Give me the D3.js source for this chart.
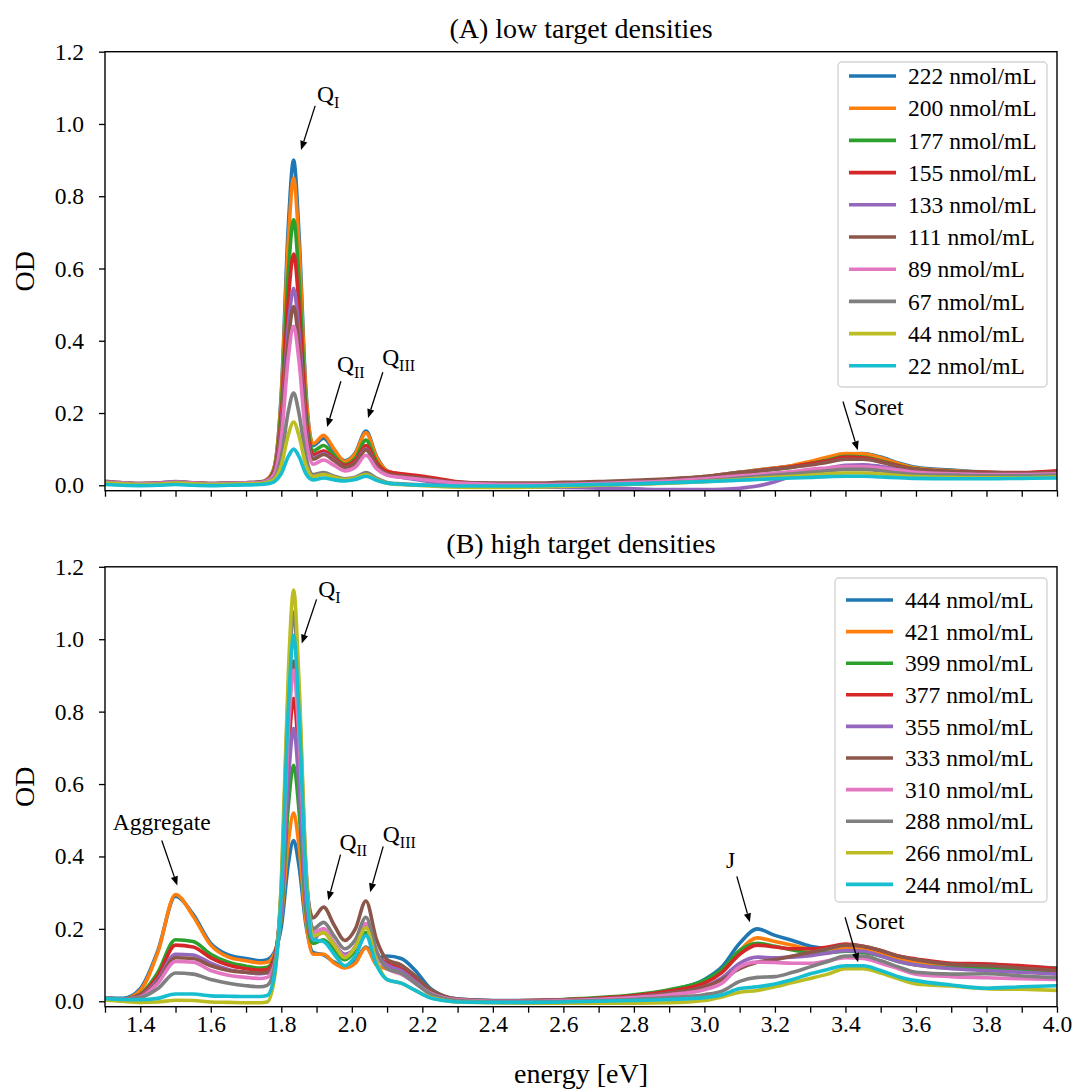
<!DOCTYPE html>
<html>
<head>
<meta charset="utf-8">
<script src="https://cdn.jsdelivr.net/npm/d3@7"></script>
<style>
  html, body { margin: 0; padding: 0; background: #fff; }
  svg { display: block; font-family: "Liberation Serif", "Times New Roman", serif; }
</style>
</head>
<body>
<div id="chart"></div>
<script>
// shared energy grid [eV]
const energy = [
  1.30, 1.35, 1.40, 1.45, 1.50, 1.55, 1.60, 1.65, 1.70, 1.74, 1.76,
  1.78, 1.80, 1.82, 1.835, 1.85, 1.87, 1.89,
  1.92, 1.95, 1.98, 2.01, 2.04, 2.07, 2.10, 2.14, 2.18, 2.22, 2.26, 2.30,
  2.40, 2.50, 2.60, 2.70, 2.80, 2.90,
  3.00, 3.05, 3.10, 3.15, 3.20, 3.25, 3.30, 3.35, 3.40, 3.45, 3.50, 3.55, 3.60,
  3.70, 3.80, 3.90, 4.00
];

const lowLabels = ["222 nmol/mL", "200 nmol/mL", "177 nmol/mL", "155 nmol/mL", "133 nmol/mL",
  "111 nmol/mL", "89 nmol/mL", "67 nmol/mL", "44 nmol/mL", "22 nmol/mL"];
const highLabels = ["444 nmol/mL", "421 nmol/mL", "399 nmol/mL", "377 nmol/mL", "355 nmol/mL",
  "333 nmol/mL", "310 nmol/mL", "288 nmol/mL", "266 nmol/mL", "244 nmol/mL"];

const colors = ["#1f77b4", "#ff7f0e", "#2ca02c", "#d62728", "#9467bd",
  "#8c564b", "#e377c2", "#7f7f7f", "#bcbd22", "#17becf"];

// (A) low target densities, OD
const low222 = [
  0.010, 0.007, 0.005, 0.006, 0.009, 0.007, 0.005, 0.006, 0.007, 0.009, 0.016,
  0.050, 0.255, 0.720, 0.900, 0.700, 0.260, 0.110,
  0.130, 0.095, 0.068, 0.090, 0.150, 0.080, 0.040, 0.030, 0.024, 0.018, 0.012, 0.008,
  0.004, 0.003, 0.004, 0.006, 0.010, 0.016,
  0.024, 0.030, 0.036, 0.042, 0.048, 0.054, 0.064, 0.076, 0.086, 0.088, 0.078, 0.062, 0.050,
  0.042, 0.036, 0.034, 0.036
];
const low200 = [
  0.010, 0.007, 0.005, 0.006, 0.009, 0.007, 0.005, 0.006, 0.007, 0.009, 0.016,
  0.050, 0.245, 0.680, 0.850, 0.665, 0.250, 0.115,
  0.138, 0.100, 0.066, 0.088, 0.145, 0.078, 0.040, 0.030, 0.024, 0.018, 0.012, 0.008,
  0.004, 0.003, 0.004, 0.006, 0.010, 0.016,
  0.024, 0.030, 0.036, 0.042, 0.048, 0.055, 0.066, 0.078, 0.088, 0.087, 0.076, 0.060, 0.048,
  0.040, 0.036, 0.034, 0.038
];
const low177 = [
  0.009, 0.006, 0.004, 0.005, 0.008, 0.006, 0.004, 0.005, 0.006, 0.008, 0.014,
  0.044, 0.215, 0.590, 0.735, 0.575, 0.215, 0.095,
  0.110, 0.082, 0.058, 0.075, 0.125, 0.066, 0.034, 0.026, 0.020, 0.015, 0.010, 0.006,
  0.002, 0.001, 0.002, 0.004, 0.006, 0.010,
  0.018, 0.026, 0.032, 0.038, 0.044, 0.050, 0.060, 0.070, 0.080, 0.078, 0.068, 0.055, 0.045,
  0.038, 0.034, 0.032, 0.038
];
const low155 = [
  0.009, 0.006, 0.004, 0.005, 0.008, 0.006, 0.004, 0.005, 0.006, 0.008, 0.014,
  0.040, 0.190, 0.515, 0.640, 0.500, 0.190, 0.085,
  0.095, 0.075, 0.055, 0.068, 0.110, 0.062, 0.038, 0.032, 0.028, 0.022, 0.016, 0.010,
  0.005, 0.003, 0.004, 0.006, 0.009, 0.014,
  0.022, 0.028, 0.034, 0.040, 0.046, 0.052, 0.060, 0.068, 0.078, 0.076, 0.066, 0.054, 0.044,
  0.038, 0.036, 0.035, 0.040
];
const low133 = [
  0.010, 0.007, 0.005, 0.006, 0.010, 0.007, 0.005, 0.006, 0.007, 0.008, 0.013,
  0.035, 0.165, 0.440, 0.545, 0.425, 0.165, 0.075,
  0.088, 0.070, 0.050, 0.062, 0.100, 0.055, 0.030, 0.022, 0.016, 0.010, 0.005, 0.002,
  -0.002, -0.004, -0.006, -0.008, -0.010, -0.012,
  -0.012, -0.011, -0.008, -0.002, 0.010, 0.026, 0.038, 0.047, 0.055, 0.057, 0.052, 0.045, 0.040,
  0.035, 0.032, 0.030, 0.032
];
const low111 = [
  0.009, 0.006, 0.004, 0.005, 0.008, 0.006, 0.004, 0.005, 0.006, 0.008, 0.013,
  0.033, 0.150, 0.400, 0.495, 0.390, 0.150, 0.072,
  0.085, 0.068, 0.050, 0.060, 0.098, 0.055, 0.032, 0.026, 0.022, 0.017, 0.012, 0.008,
  0.006, 0.006, 0.008, 0.010, 0.014, 0.018,
  0.024, 0.030, 0.036, 0.040, 0.045, 0.050, 0.056, 0.064, 0.072, 0.072, 0.064, 0.052, 0.044,
  0.038, 0.035, 0.034, 0.036
];
const low89 = [
  0.008, 0.006, 0.004, 0.005, 0.008, 0.006, 0.004, 0.005, 0.006, 0.007, 0.012,
  0.030, 0.130, 0.355, 0.440, 0.345, 0.130, 0.058,
  0.070, 0.055, 0.040, 0.050, 0.083, 0.046, 0.028, 0.022, 0.018, 0.014, 0.010, 0.006,
  0.003, 0.002, 0.003, 0.005, 0.008, 0.012,
  0.018, 0.022, 0.026, 0.030, 0.034, 0.038, 0.044, 0.048, 0.052, 0.052, 0.048, 0.042, 0.036,
  0.032, 0.030, 0.030, 0.032
];
const low67 = [
  0.006, 0.004, 0.002, 0.003, 0.006, 0.004, 0.002, 0.003, 0.004, 0.005, 0.009,
  0.020, 0.078, 0.205, 0.255, 0.200, 0.078, 0.030,
  0.035, 0.025, 0.018, 0.022, 0.035, 0.020, 0.008, 0.004, 0.002, 0.000, -0.002, -0.004,
  -0.005, -0.004, -0.002, 0.000, 0.003, 0.007,
  0.012, 0.016, 0.020, 0.024, 0.028, 0.032, 0.036, 0.040, 0.044, 0.044, 0.040, 0.034, 0.030,
  0.028, 0.026, 0.026, 0.028
];
const low44 = [
  0.006, 0.004, 0.002, 0.003, 0.006, 0.004, 0.002, 0.003, 0.004, 0.005, 0.008,
  0.016, 0.055, 0.140, 0.175, 0.138, 0.055, 0.024,
  0.030, 0.022, 0.016, 0.020, 0.030, 0.016, 0.006, 0.002, 0.000, -0.002, -0.004, -0.005,
  -0.006, -0.005, -0.003, 0.000, 0.003, 0.006,
  0.010, 0.013, 0.016, 0.019, 0.022, 0.025, 0.028, 0.031, 0.034, 0.034, 0.031, 0.027, 0.024,
  0.022, 0.021, 0.021, 0.023
];
const low22 = [
  0.002, 0.000, -0.001, 0.000, 0.002, 0.000, -0.001, 0.000, 0.001, 0.002, 0.004,
  0.010, 0.032, 0.080, 0.100, 0.080, 0.032, 0.015,
  0.020, 0.015, 0.012, 0.016, 0.025, 0.014, 0.006, 0.003, 0.001, 0.000, -0.001, -0.002,
  -0.002, -0.002, 0.000, 0.002, 0.004, 0.007,
  0.010, 0.012, 0.014, 0.016, 0.018, 0.020, 0.022, 0.024, 0.025, 0.025, 0.023, 0.021, 0.019,
  0.018, 0.018, 0.019, 0.020
];

// (B) high target densities, OD
const high444 = [
  0.008, 0.008, 0.035, 0.140, 0.290, 0.240, 0.160, 0.128, 0.118, 0.112, 0.115,
  0.135, 0.205, 0.380, 0.444, 0.375, 0.210, 0.135,
  0.128, 0.108, 0.095, 0.110, 0.150, 0.120, 0.125, 0.118, 0.085, 0.038, 0.015, 0.006,
  0.002, 0.002, 0.004, 0.008, 0.015, 0.030,
  0.060, 0.095, 0.160, 0.200, 0.182, 0.168, 0.152, 0.146, 0.150, 0.146, 0.135, 0.120, 0.112,
  0.100, 0.102, 0.096, 0.092
];
const high421 = [
  0.008, 0.006, 0.030, 0.135, 0.295, 0.235, 0.155, 0.122, 0.112, 0.106, 0.108,
  0.130, 0.230, 0.440, 0.520, 0.430, 0.220, 0.130,
  0.130, 0.105, 0.092, 0.105, 0.148, 0.100, 0.090, 0.080, 0.055, 0.025, 0.010, 0.004,
  0.000, 0.000, 0.002, 0.006, 0.012, 0.025,
  0.050, 0.085, 0.140, 0.175, 0.165, 0.155, 0.145, 0.145, 0.148, 0.145, 0.132, 0.118, 0.110,
  0.100, 0.100, 0.095, 0.090
];
const high399 = [
  0.008, 0.006, 0.020, 0.080, 0.170, 0.165, 0.130, 0.108, 0.097, 0.092, 0.094,
  0.120, 0.240, 0.540, 0.652, 0.530, 0.250, 0.160,
  0.170, 0.140, 0.115, 0.140, 0.190, 0.120, 0.100, 0.085, 0.055, 0.025, 0.010, 0.004,
  0.001, 0.002, 0.005, 0.010, 0.018, 0.032,
  0.058, 0.088, 0.140, 0.160, 0.152, 0.142, 0.135, 0.135, 0.138, 0.135, 0.125, 0.110, 0.100,
  0.092, 0.092, 0.088, 0.080
];
const high377 = [
  0.008, 0.006, 0.018, 0.070, 0.155, 0.150, 0.120, 0.100, 0.090, 0.086, 0.088,
  0.120, 0.280, 0.680, 0.836, 0.670, 0.300, 0.180,
  0.190, 0.155, 0.125, 0.150, 0.210, 0.130, 0.105, 0.090, 0.060, 0.028, 0.012, 0.005,
  0.001, 0.002, 0.004, 0.008, 0.015, 0.028,
  0.050, 0.080, 0.130, 0.155, 0.150, 0.145, 0.145, 0.150, 0.158, 0.152, 0.140, 0.125, 0.117,
  0.105, 0.103, 0.098, 0.090
];
const high355 = [
  0.008, 0.006, 0.015, 0.060, 0.130, 0.128, 0.105, 0.088, 0.080, 0.076, 0.078,
  0.110, 0.250, 0.610, 0.753, 0.600, 0.270, 0.170,
  0.200, 0.160, 0.130, 0.150, 0.210, 0.130, 0.100, 0.085, 0.055, 0.025, 0.010, 0.004,
  0.000, 0.001, 0.003, 0.006, 0.012, 0.022,
  0.040, 0.065, 0.105, 0.122, 0.120, 0.122, 0.126, 0.133, 0.140, 0.138, 0.125, 0.110, 0.100,
  0.090, 0.085, 0.080, 0.075
];
const high333 = [
  0.008, 0.006, 0.014, 0.055, 0.120, 0.118, 0.098, 0.085, 0.080, 0.078, 0.080,
  0.110, 0.300, 0.760, 0.940, 0.750, 0.340, 0.230,
  0.260, 0.210, 0.168, 0.200, 0.277, 0.170, 0.115, 0.100, 0.070, 0.035, 0.015, 0.006,
  0.001, 0.001, 0.003, 0.006, 0.012, 0.022,
  0.040, 0.060, 0.090, 0.108, 0.115, 0.125, 0.135, 0.145, 0.155, 0.152, 0.140, 0.125, 0.115,
  0.102, 0.098, 0.092, 0.085
];
const high310 = [
  0.008, 0.006, 0.012, 0.050, 0.110, 0.108, 0.085, 0.072, 0.066, 0.063, 0.066,
  0.100, 0.290, 0.740, 0.915, 0.730, 0.330, 0.190,
  0.200, 0.160, 0.125, 0.150, 0.215, 0.130, 0.090, 0.075, 0.050, 0.024, 0.010, 0.004,
  0.000, 0.000, 0.002, 0.005, 0.010, 0.018,
  0.032, 0.050, 0.095, 0.108, 0.107, 0.105, 0.105, 0.112, 0.120, 0.118, 0.105, 0.090, 0.075,
  0.068, 0.065, 0.062, 0.060
];
const high288 = [
  0.008, 0.006, 0.010, 0.035, 0.078, 0.075, 0.060, 0.050, 0.043, 0.040, 0.044,
  0.090, 0.320, 0.860, 1.075, 0.850, 0.370, 0.200,
  0.218, 0.180, 0.145, 0.170, 0.232, 0.140, 0.090, 0.078, 0.050, 0.022, 0.008, 0.002,
  -0.002, -0.002, 0.000, 0.002, 0.005, 0.010,
  0.018, 0.028, 0.055, 0.066, 0.068, 0.080, 0.095, 0.110, 0.125, 0.125, 0.112, 0.095, 0.080,
  0.075, 0.076, 0.070, 0.065
];
const high266 = [
  0.004, 0.000, -0.003, -0.002, 0.003, 0.002, -0.002, -0.003, -0.004, -0.004, -0.002,
  0.060, 0.330, 0.910, 1.136, 0.890, 0.370, 0.180,
  0.190, 0.155, 0.120, 0.150, 0.203, 0.110, 0.060, 0.050, 0.030, 0.012, 0.003, -0.002,
  -0.004, -0.005, -0.005, -0.005, -0.005, -0.004,
  0.002, 0.012, 0.025, 0.030, 0.040, 0.052, 0.063, 0.075, 0.090, 0.090, 0.078, 0.062, 0.048,
  0.042, 0.035, 0.033, 0.030
];
const high244 = [
  0.008, 0.005, 0.004, 0.008, 0.020, 0.020, 0.015, 0.014, 0.013, 0.013, 0.016,
  0.070, 0.300, 0.810, 1.011, 0.800, 0.340, 0.170,
  0.165, 0.130, 0.098, 0.125, 0.182, 0.100, 0.060, 0.050, 0.030, 0.010, 0.002, -0.002,
  -0.003, -0.003, -0.002, 0.000, 0.002, 0.005,
  0.010, 0.018, 0.035, 0.040, 0.048, 0.060, 0.076, 0.088, 0.098, 0.098, 0.085, 0.068, 0.057,
  0.045, 0.036, 0.040, 0.043
];

const lowSeries = [low222, low200, low177, low155, low133, low111, low89, low67, low44, low22];
const highSeries = [high444, high421, high399, high377, high355, high333, high310, high288, high266, high244];

const yTicks = [0.0, 0.2, 0.4, 0.6, 0.8, 1.0, 1.2];
const xTicks = d3.range(13, 41).map((v) => v / 10);

// annotations in data coordinates: label position, arrow tail, arrow tip
const lowNotes = [
  { label: "Q", sub: "I", at: [1.901, 1.061], tail: [1.896, 1.050], tip: [1.856, 0.928] },
  { label: "Q", sub: "II", at: [1.958, 0.313], tail: [1.969, 0.288], tip: [1.930, 0.161] },
  { label: "Q", sub: "III", at: [2.086, 0.332], tail: [2.088, 0.313], tip: [2.046, 0.186] },
  { label: "Soret", sub: "", at: [3.424, 0.194], tail: [3.393, 0.232], tip: [3.435, 0.097] }
];
const highNotes = [
  { label: "Aggregate", sub: "", at: [1.322, 0.472], tail: [1.461, 0.444], tip: [1.505, 0.320] },
  { label: "Q", sub: "I", at: [1.905, 1.116], tail: [1.900, 1.110], tip: [1.858, 0.988] },
  { label: "Q", sub: "II", at: [1.965, 0.417], tail: [1.968, 0.405], tip: [1.933, 0.279] },
  { label: "Q", sub: "III", at: [2.088, 0.440], tail: [2.089, 0.428], tip: [2.052, 0.301] },
  { label: "J", sub: "", at: [3.061, 0.367], tail: [3.092, 0.345], tip: [3.129, 0.218] },
  { label: "Soret", sub: "", at: [3.427, 0.200], tail: [3.399, 0.232], tip: [3.436, 0.108] }
];

const width = 1075;
const height = 1091;
const plotLeft = 105;
const plotRight = 1057;
const serif = "\"Liberation Serif\", \"Times New Roman\", serif";

const panels = [
  {
    id: "a", title: "(A) low target densities", top: 51.7, bottom: 490.7,
    labels: lowLabels, series: lowSeries, notes: lowNotes, showXLabels: false,
    legend: { x: 838, y: 62, w: 209, h: 325, first: 76, step: 32.2 }
  },
  {
    id: "b", title: "(B) high target densities", top: 566.8, bottom: 1006.7,
    labels: highLabels, series: highSeries, notes: highNotes, showXLabels: true,
    legend: { x: 835, y: 578, w: 212, h: 324, first: 600, step: 31.6 }
  }
];

const svg = d3.select("#chart")
  .append("svg")
  .attr("width", width)
  .attr("height", height)
  .attr("font-family", serif)
  .attr("viewBox", `0 0 ${width} ${height}`);

const xScale = d3.scaleLinear().domain([1.3, 4.0]).range([plotLeft, plotRight]);

panels.forEach((panel) => {
  const yScale = d3.scaleLinear().domain([-0.015, 1.2]).range([panel.bottom, panel.top]);
  const g = svg.append("g").attr("class", `panel panel--${panel.id}`);

  svg.append("clipPath")
    .attr("id", `clip-${panel.id}`)
    .append("rect")
    .attr("x", plotLeft)
    .attr("y", panel.top)
    .attr("width", plotRight - plotLeft)
    .attr("height", panel.bottom - panel.top);

  // spectra, first series drawn first
  const line = d3.line()
    .x((d, i) => xScale(energy[i]))
    .y((d) => yScale(d))
    .curve(d3.curveMonotoneX);

  g.append("g")
    .attr("clip-path", `url(#clip-${panel.id})`)
    .selectAll("path")
    .data(panel.series)
    .join("path")
    .attr("d", (values) => line(values))
    .attr("fill", "none")
    .attr("stroke", (d, i) => colors[i])
    .attr("stroke-width", 3.6)
    .attr("stroke-linejoin", "round")
    .attr("stroke-linecap", "round");

  // axes
  const yAxis = g.append("g")
    .attr("transform", `translate(${plotLeft},0)`)
    .call(d3.axisLeft(yScale).tickValues(yTicks).tickFormat(d3.format(".1f")).tickSize(6).tickPadding(15));
  const xAxis = g.append("g")
    .attr("transform", `translate(0,${panel.bottom})`)
    .call(d3.axisBottom(xScale).tickValues(xTicks).tickSize(6).tickPadding(3)
      .tickFormat((d) => (panel.showXLabels && Math.round(d * 10) % 2 === 0 && d > 1.3 ? d.toFixed(1) : "")));

  [xAxis, yAxis].forEach((axis) => {
    axis.attr("font-family", serif).attr("font-size", 23.5);
    axis.select(".domain").remove();
    axis.selectAll(".tick line").attr("stroke", "#000").attr("stroke-width", 1.3);
    axis.selectAll(".tick text").attr("fill", "#000");
  });

  // frame
  g.append("rect")
    .attr("x", plotLeft)
    .attr("y", panel.top)
    .attr("width", plotRight - plotLeft)
    .attr("height", panel.bottom - panel.top)
    .attr("fill", "none")
    .attr("stroke", "#000")
    .attr("stroke-width", 1.4);

  // title and y label
  g.append("text")
    .attr("x", (plotLeft + plotRight) / 2)
    .attr("y", panel.top - 14)
    .attr("text-anchor", "middle")
    .attr("font-size", 28)
    .text(panel.title);

  g.append("text")
    .attr("transform", `translate(34,${(panel.top + panel.bottom) / 2}) rotate(-90)`)
    .attr("text-anchor", "middle")
    .attr("font-size", 28)
    .text("OD");

  // annotations
  const notes = g.append("g").attr("class", "notes");
  panel.notes.forEach((note) => {
    const x1 = xScale(note.tail[0]);
    const y1 = yScale(note.tail[1]);
    const x2 = xScale(note.tip[0]);
    const y2 = yScale(note.tip[1]);
    const angle = Math.atan2(y2 - y1, x2 - x1);
    const head = 9;
    const half = 3.6;
    const bx = x2 - head * Math.cos(angle);
    const by = y2 - head * Math.sin(angle);
    notes.append("line")
      .attr("x1", x1).attr("y1", y1)
      .attr("x2", bx).attr("y2", by)
      .attr("stroke", "#000")
      .attr("stroke-width", 1.3);
    notes.append("path")
      .attr("d", `M${x2},${y2}L${bx - half * Math.sin(angle)},${by + half * Math.cos(angle)}L${bx + half * Math.sin(angle)},${by - half * Math.cos(angle)}Z`)
      .attr("fill", "#000");

    const label = notes.append("text")
      .attr("x", xScale(note.at[0]))
      .attr("y", yScale(note.at[1]))
      .attr("font-size", 23.5)
      .text(note.label);
    if (note.sub) {
      label.append("tspan")
        .attr("dy", 6)
        .attr("font-size", 16)
        .text(note.sub);
    }
  });

  // legend
  const lg = panel.legend;
  const legend = g.append("g").attr("class", "legend");
  legend.append("rect")
    .attr("x", lg.x)
    .attr("y", lg.y)
    .attr("width", lg.w)
    .attr("height", lg.h)
    .attr("rx", 4)
    .attr("fill", "#fff")
    .attr("fill-opacity", 0.8)
    .attr("stroke", "#d4d4d4")
    .attr("stroke-width", 1.4);
  const rows = legend.selectAll("g.row")
    .data(panel.labels)
    .join("g")
    .attr("class", "row")
    .attr("transform", (d, i) => `translate(${lg.x},${lg.first + i * lg.step})`);
  rows.append("line")
    .attr("x1", 11).attr("x2", 58)
    .attr("stroke", (d, i) => colors[i])
    .attr("stroke-width", 3.6);
  rows.append("text")
    .attr("x", 70)
    .attr("dy", "0.35em")
    .attr("font-size", 23.5)
    .text((d) => d);
});

svg.append("text")
  .attr("x", (plotLeft + plotRight) / 2)
  .attr("y", 1083)
  .attr("text-anchor", "middle")
  .attr("font-size", 28)
  .text("energy [eV]");
</script>
</body>
</html>
